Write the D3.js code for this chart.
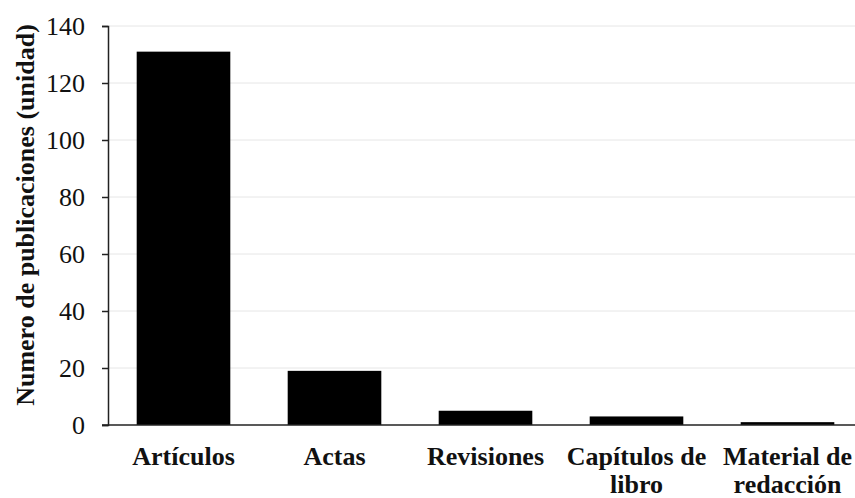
<!DOCTYPE html>
<html>
<head>
<meta charset="utf-8">
<script src="https://cdn.jsdelivr.net/npm/d3@7"></script>
<style>
  body { margin: 0; background: #fff; }
  text { font-family: "Liberation Serif", "Times New Roman", serif; }
</style>
</head>
<body>
<svg></svg>
<script>
// publicaciones por tipo

var width = 855;
var height = 498;
var margin = {top: 26, right: -8, bottom: 73, left: 108};

var categories = ["Artículos", "Actas", "Revisiones", "Capítulos de libro", "Material de redacción"];
var labelLines = [["Artículos"], ["Actas"], ["Revisiones"], ["Capítulos de", "libro"], ["Material de", "redacción"]];
var counts = [131, 19, 5, 3, 1];
var yTicks = [0, 20, 40, 60, 80, 100, 120, 140];

var data = categories.map((c, i) => ({cat: c, value: counts[i], lines: labelLines[i]}));

var xScale = d3.scaleBand()
                .domain(categories)
                .range([margin.left, width - margin.right])
                .paddingInner(0.38)
                .paddingOuter(0.19);

var yScale = d3.scaleLinear()
                .domain([0, 140])
                .range([height - margin.bottom, margin.top]);

var svg = d3.select('svg')
            .attr('width', width)
            .attr('height', height);

// gridlines
svg.append("g")
    .selectAll("line")
    .data(yTicks.filter(d => d > 0))
    .enter()
    .append("line")
      .attr("x1", margin.left)
      .attr("x2", width)
      .attr("y1", d => yScale(d))
      .attr("y2", d => yScale(d))
      .attr("stroke", "#e6e6e6")
      .attr("stroke-width", 1);

svg.selectAll('rect')
    .data(data)
    .enter()
    .append('rect')
      .attr('x', d => xScale(d.cat))
      .attr('y', d => yScale(d.value))
      .attr('width', xScale.bandwidth())
      .attr('height', d => yScale(0) - yScale(d.value))
      .attr('fill', '#000');

// y axis
var yAxis = svg.append("g")
    .attr("transform", "translate(" + margin.left + ",0)")
    .call(d3.axisLeft(yScale).tickValues(yTicks).tickSize(6).tickPadding(17));
yAxis.select(".domain").attr("stroke", "#222").attr("stroke-width", 1.5);
yAxis.selectAll(".tick line").attr("stroke", "#222").attr("stroke-width", 1.5);
yAxis.selectAll(".tick text")
    .style("font-family", "Liberation Serif")
    .style("font-size", "26px")
    .attr("fill", "#111")
    .attr("dy", "0.34em");

// x axis line
svg.append("line")
    .attr("x1", margin.left - 6)
    .attr("x2", width)
    .attr("y1", yScale(0))
    .attr("y2", yScale(0))
    .attr("stroke", "#222")
    .attr("stroke-width", 1.5);

// x labels
var xl = svg.append("g").selectAll("text")
    .data(data)
    .enter()
    .append("text")
      .attr("x", d => xScale(d.cat) + xScale.bandwidth() / 2)
      .attr("y", yScale(0) + 40)
      .style("text-anchor", "middle")
      .style("font-size", "26px")
      .style("font-weight", "bold")
      .attr("fill", "#111");
xl.selectAll("tspan")
    .data(d => d.lines)
    .enter()
    .append("tspan")
      .attr("x", function() { return d3.select(this.parentNode).attr("x"); })
      .attr("dy", (d, i) => i === 0 ? 0 : 28)
      .text(d => d);

svg.append("text")
    .attr("transform", "rotate(-90)")
    .attr("x", -215)
    .attr("y", 34)
    .style("text-anchor", "middle")
    .style("font-size", "26px")
    .style("font-weight", "bold")
    .attr("fill", "#111")
    .text("Numero de publicaciones (unidad)");
</script>
</body>
</html>
